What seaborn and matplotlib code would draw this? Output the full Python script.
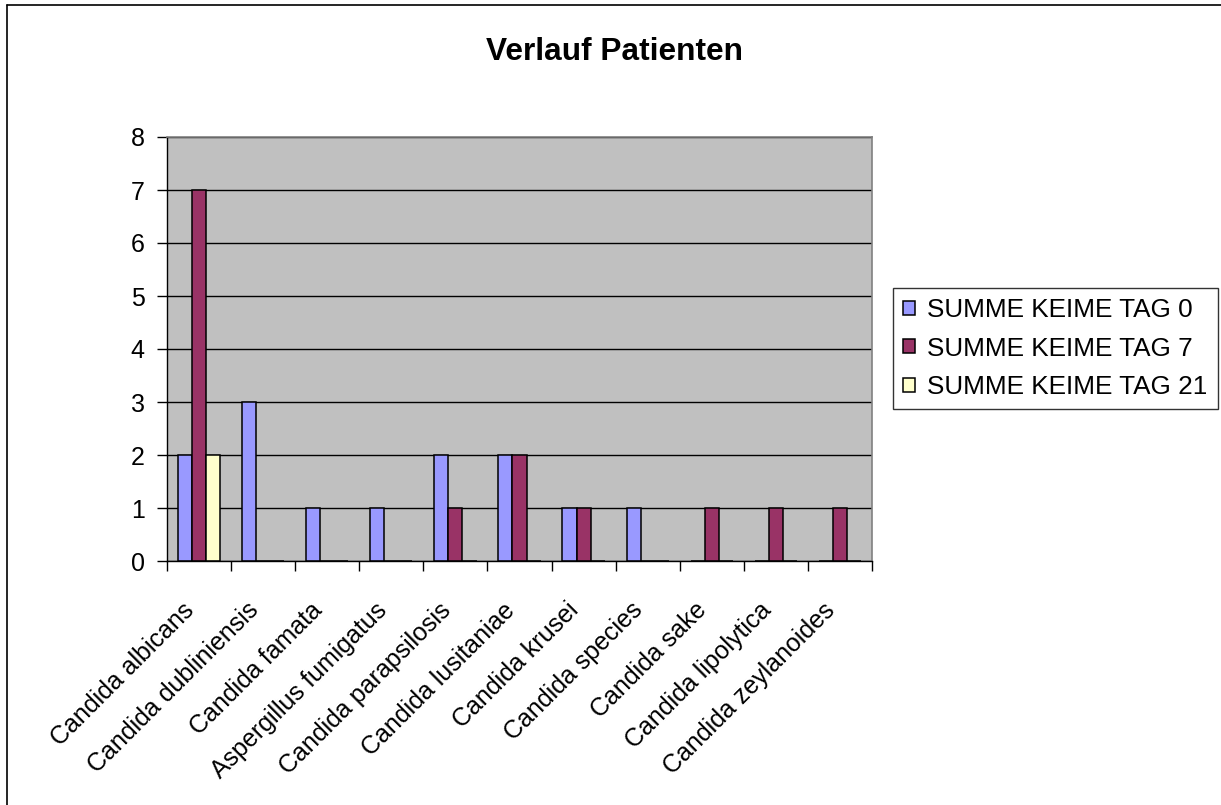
import matplotlib
matplotlib.use("Agg")
import matplotlib.pyplot as plt
import matplotlib.transforms as mtransforms
import seaborn as sns
import pandas as pd
from matplotlib.lines import Line2D

keime = ['Candida albicans', 'Candida dubliniensis', 'Candida famata',
         'Aspergillus fumigatus', 'Candida parapsilosis', 'Candida lusitaniae',
         'Candida krusei', 'Candida species', 'Candida sake',
         'Candida lipolytica', 'Candida zeylanoides']
tag_0 = [2, 3, 1, 1, 2, 2, 1, 1, 0, 0, 0]
tag_7 = [7, 0, 0, 0, 1, 2, 1, 0, 1, 1, 1]
tag_21 = [2, 0, 0, 0, 0, 0, 0, 0, 0, 0, 0]
serien = ['SUMME KEIME TAG 0', 'SUMME KEIME TAG 7', 'SUMME KEIME TAG 21']
farben = ['#9999FF', '#993366', '#FFFFCC']

df = pd.DataFrame({'Keim': keime * 3,
                   'Serie': [serien[0]] * 11 + [serien[1]] * 11 + [serien[2]] * 11,
                   'Anzahl': tag_0 + tag_7 + tag_21})

sns.set_style('white')
plt.rcParams['font.family'] = ['Liberation Sans', 'DejaVu Sans']
plt.rcParams['text.color'] = 'black'
plt.rcParams['xtick.color'] = 'black'
plt.rcParams['ytick.color'] = 'black'

fig = plt.figure(figsize=(12.21, 8.05), dpi=100)
ax = fig.add_axes([167 / 1221, 1 - 561 / 805, 705 / 1221, 424 / 805])
ax.set_facecolor('#C0C0C0')

sns.barplot(data=df, x='Keim', y='Anzahl', hue='Serie', palette=farben,
            width=0.66, gap=0, edgecolor='black', linewidth=1.1, ax=ax,
            saturation=1)

ax.set_xlim(-0.5, 10.5)
ax.set_ylim(0, 8)
ax.set_yticks(range(9))
ax.yaxis.grid(True, color='black', linewidth=1)
ax.set_axisbelow(True)
ax.set_xlabel('')
ax.set_ylabel('')

for s in ['top', 'right']:
    ax.spines[s].set_color('#808080')
    ax.spines[s].set_linewidth(1.2)
for s in ['left', 'bottom']:
    ax.spines[s].set_color('black')
    ax.spines[s].set_linewidth(1)

ax.set_xticks(range(11))
ax.set_xticklabels(keime, rotation=45, ha='right', rotation_mode='anchor', va='top')
ax.set_xticks([i - 0.5 for i in range(12)], minor=True)
ax.tick_params(axis='x', which='major', length=0, labelsize=18, pad=0)
ax.tick_params(axis='x', which='minor', length=7, width=1, color='black',
               direction='out', bottom=True)
ax.tick_params(axis='y', length=7, width=1, color='black', direction='out',
               left=True, labelsize=18, pad=9)

versatz = mtransforms.ScaledTranslation(-0.17, -0.37, fig.dpi_scale_trans)
for lbl in ax.get_xticklabels():
    lbl.set_transform(lbl.get_transform() + versatz)

fig.text(615 / 1221, 1 - 52 / 805, 'Verlauf Patienten', fontsize=22.8,
         fontweight='bold', ha='center', va='center')

leg = ax.legend(loc='center left', bbox_to_anchor=(893 / 1221, 1 - 348.5 / 805),
                bbox_transform=fig.transFigure, fontsize=18.8, frameon=True,
                fancybox=False, edgecolor='black', handlelength=0.45,
                handleheight=0.45, handletextpad=0.45, labelspacing=0.55,
                borderpad=0.4, borderaxespad=0)
leg.get_frame().set_linewidth(1)

# Rahmen oben und links
fig.add_artist(Line2D([7 / 1221, 7 / 1221], [0, 1 - 5 / 805],
                      transform=fig.transFigure, color='black', linewidth=1.2))
fig.add_artist(Line2D([7 / 1221, 1], [1 - 5 / 805, 1 - 5 / 805],
                      transform=fig.transFigure, color='black', linewidth=1.2))

fig.savefig('out.png', dpi=100)
